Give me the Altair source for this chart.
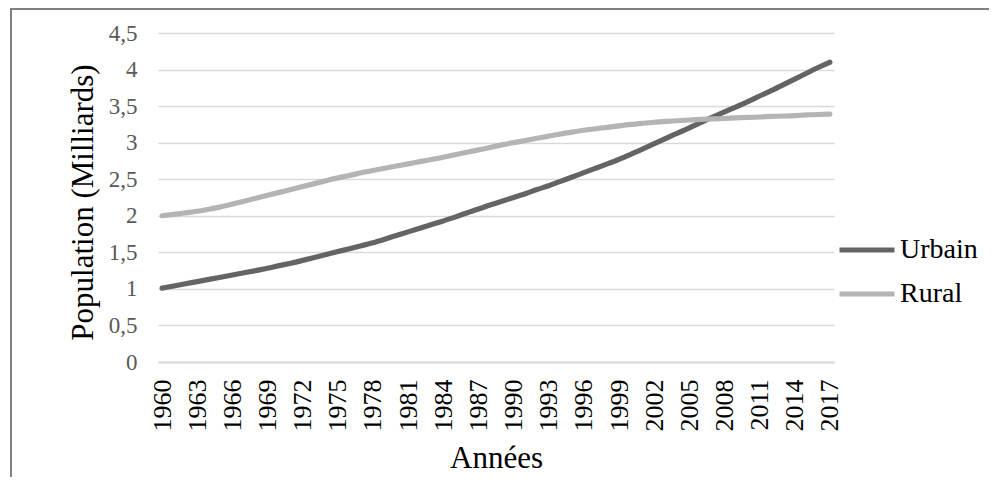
import altair as alt
import pandas as pd

years = list(range(1960, 2018))
urbain = [1.01, 1.04, 1.07, 1.10, 1.13, 1.16, 1.19, 1.22, 1.25, 1.28,
          1.32, 1.35, 1.39, 1.43, 1.47, 1.51, 1.55, 1.59, 1.63, 1.68,
          1.73, 1.78, 1.83, 1.88, 1.93, 1.98, 2.04, 2.09, 2.15, 2.20,
          2.25, 2.30, 2.36, 2.41, 2.47, 2.53, 2.59, 2.65, 2.71, 2.77,
          2.84, 2.91, 2.985, 3.06, 3.13, 3.20, 3.28, 3.35, 3.42, 3.49,
          3.56, 3.64, 3.71, 3.79, 3.87, 3.95, 4.03, 4.10]
rural = [2.00, 2.02, 2.04, 2.06, 2.09, 2.12, 2.16, 2.20, 2.24, 2.28,
         2.32, 2.36, 2.40, 2.44, 2.48, 2.52, 2.55, 2.59, 2.62, 2.65,
         2.68, 2.71, 2.74, 2.77, 2.80, 2.835, 2.87, 2.90, 2.935, 2.97,
         3.00, 3.03, 3.06, 3.09, 3.12, 3.145, 3.17, 3.19, 3.21, 3.23,
         3.25, 3.265, 3.28, 3.29, 3.30, 3.31, 3.32, 3.325, 3.33, 3.34,
         3.345, 3.35, 3.36, 3.365, 3.37, 3.38, 3.385, 3.39]
series_names = ["Urbain", "Rural"]
series_colors = ["#646464", "#b4b4b4"]
x_ticks = list(range(1960, 2018, 3))
y_ticks = [0, 0.5, 1, 1.5, 2, 2.5, 3, 3.5, 4, 4.5]

df = pd.DataFrame({
    "Annee": years + years,
    "Population": urbain + rural,
    "Serie": ["Urbain"] * len(years) + ["Rural"] * len(years),
})

FONT = "Liberation Serif"

lines = alt.Chart(df).mark_line(
    strokeWidth=5.2, strokeCap="round", strokeJoin="round", interpolate="basis"
).encode(
    x=alt.X(
        "Annee:Q",
        scale=alt.Scale(domain=[1959.65, 2017.35], nice=False, zero=False),
        axis=alt.Axis(
            values=x_ticks, format="d", labelAngle=-90, labelAlign="right",
            labelBaseline="middle", title="Années", grid=False, ticks=False,
            tickSize=0, labelPadding=17, labelFontSize=26, labelColor="black",
            labelFont=FONT, domainColor="#d9d9d9", domainWidth=2,
            titleFontSize=31, titleColor="black", titleFontWeight="normal",
            titleFont=FONT, titleY=105, titleBaseline="alphabetic",
            labelOverlap=False,
        ),
    ),
    y=alt.Y(
        "Population:Q",
        scale=alt.Scale(domain=[0, 4.5], nice=False),
        axis=alt.Axis(
            values=y_ticks,
            labelExpr="replace(toString(datum.value), '.', ',')",
            title="Population (Milliards)", domain=False, ticks=False,
            tickSize=0, labelPadding=21, labelFontSize=23,
            labelColor="#595959", labelFont=FONT, gridColor="#d9d9d9",
            gridWidth=1.4, titleFontSize=31, titleColor="black",
            titleFontWeight="normal", titleFont=FONT, titleX=-75,
            titleY=169, titleBaseline="middle", titleAlign="center",
            labelOverlap=False,
        ),
    ),
    color=alt.Color(
        "Serie:N",
        scale=alt.Scale(domain=series_names, range=series_colors),
        legend=alt.Legend(
            orient="none", legendX=679, legendY=187, title=None,
            symbolType="stroke", symbolSize=3025, symbolStrokeWidth=5,
            labelFontSize=28, labelFont=FONT, labelColor="black",
            labelOffset=3, rowPadding=0,
        ),
    ),
)

frame_src = pd.DataFrame({"k": [0]})
frame_top = alt.Chart(frame_src).mark_rule(color="#808080", strokeWidth=2).encode(
    x=alt.value(-147), x2=alt.value(900), y=alt.value(-24)
)
frame_left = alt.Chart(frame_src).mark_rule(color="#808080", strokeWidth=2).encode(
    x=alt.value(-147), y=alt.value(-25), y2=alt.value(600)
)

chart = alt.layer(frame_top, frame_left, lines).properties(
    width=676,
    height=329,
    autosize=alt.AutoSizeParams(type="none"),
    padding={"left": 150, "top": 25, "right": 155, "bottom": 115},
).configure(font=FONT).configure_view(stroke=None)

chart.save("out.html", embed_options={"renderer": "svg", "actions": False})
